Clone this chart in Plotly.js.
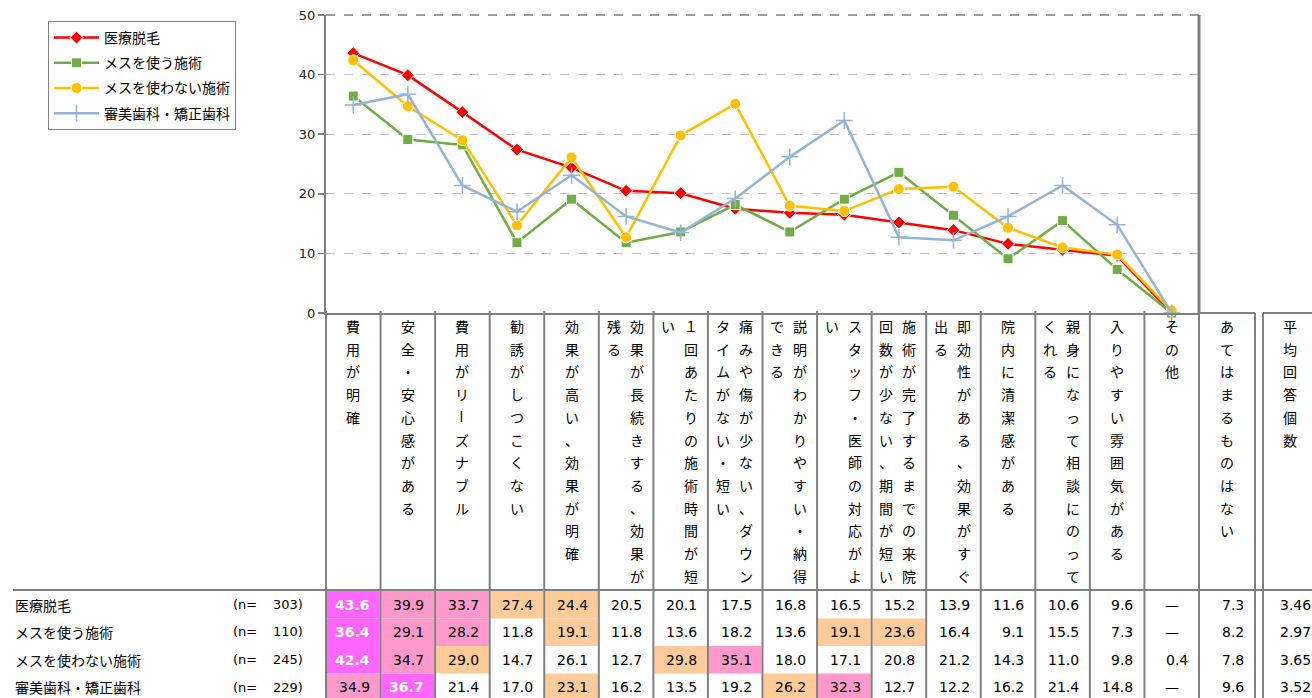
<!DOCTYPE html>
<html><head><meta charset="utf-8">
<script src="https://cdn.plot.ly/plotly-3.0.1.min.js"></script>
<style>body{margin:0;background:#fff}</style>
</head><body><div id="chart" style="width:1312px;height:698px"></div>
<script>
// ---- data ----
const categories = [
  '費用が明確', '安全・安心感がある', '費用がリーズナブル', '勧誘がしつこくない',
  '効果が高い、効果が明確', '効果が長続きする、効果が残る', '１回あたりの施術時間が短い',
  '痛みや傷が少ない、ダウンタイムがない・短い', '説明がわかりやすい・納得できる',
  'スタッフ・医師の対応がよい', '施術が完了するまでの来院回数が少ない、期間が短い',
  '即効性がある、効果がすぐ出る', '院内に清潔感がある', '親身になって相談にのってくれる',
  '入りやすい雰囲気がある', 'その他'
];
const extraColumns = ['あてはまるものはない', '平均回答個数'];
const seriesNames = ['医療脱毛', 'メスを使う施術', 'メスを使わない施術', '審美歯科・矯正歯科'];
const sampleSizes = [303, 110, 245, 229];
const iryoDatsumo   = [43.6, 39.9, 33.7, 27.4, 24.4, 20.5, 20.1, 17.5, 16.8, 16.5, 15.2, 13.9, 11.6, 10.6, 9.6, null];
const mesuTsukau    = [36.4, 29.1, 28.2, 11.8, 19.1, 11.8, 13.6, 18.2, 13.6, 19.1, 23.6, 16.4, 9.1, 15.5, 7.3, null];
const mesuTsukawanai= [42.4, 34.7, 29.0, 14.7, 26.1, 12.7, 29.8, 35.1, 18.0, 17.1, 20.8, 21.2, 14.3, 11.0, 9.8, 0.4];
const shinbiShika   = [34.9, 36.7, 21.4, 17.0, 23.1, 16.2, 13.5, 19.2, 26.2, 32.3, 12.7, 12.2, 16.2, 21.4, 14.8, null];
const noneValues = [7.3, 8.2, 7.8, 9.6];
const avgCounts = [3.46, 2.97, 3.65, 3.52];
const yTicks = [0, 10, 20, 30, 40, 50];

// ---- styles ----
const seriesValues = [iryoDatsumo, mesuTsukau, mesuTsukawanai, shinbiShika];
const colors = ['#FF0000', '#70AD47', '#FFC000', '#95B3D7'];
const symbols = ['diamond', 'square', 'circle', 'cross-thin'];
const msizes = [10, 10, 11, 12];
const JP = '"Noto Sans CJK JP", sans-serif';
const NUM = '"DejaVu Sans", "Noto Sans CJK JP", sans-serif';
const GRAY = '#808080';

const W = 1312, H = 698, L = 326, R = 1199, T = 15, B = 313;
const px2x = p => (p - L) / (R - L);
const py2y = p => (B - p) / (B - T);
const colW = (R - L) / categories.length;
const colEdge = i => L + i * colW;

const traces = seriesValues.map((vals, s) => ({
  type: 'scatter', mode: 'lines+markers', name: seriesNames[s],
  legendgroup: 'g' + s,
  x: categories, y: vals.map(v => v === null ? 0 : v),
  line: {color: colors[s], width: 2.5},
  marker: {symbol: symbols[s], size: msizes[s], color: colors[s],
           line: {color: s === 3 ? colors[s] : '#FFFFFF', width: s === 3 ? 1.5 : 1}},
  cliponaxis: false, hoverinfo: 'x+y'
}));

const shapes = [];
const annotations = [];
function line(x0, y0, x1, y1, w, dash) {
  shapes.push({type: 'line', xref: 'paper', yref: 'paper', x0: px2x(x0), y0: py2y(y0), x1: px2x(x1), y1: py2y(y1),
    line: {color: GRAY, width: w || 2, dash: dash || 'solid'}});
}
function rect(x0, y0, x1, y1, c) {
  shapes.push({type: 'rect', xref: 'paper', yref: 'paper', x0: px2x(x0), y0: py2y(y0), x1: px2x(x1), y1: py2y(y1),
    line: {width: 0}, fillcolor: c, layer: 'below'});
}
function txt(t, x, y, anchor, opts) {
  opts = opts || {};
  annotations.push({xref: 'paper', yref: 'paper', x: px2x(x), y: py2y(y), xanchor: anchor || 'center', yanchor: 'middle',
    showarrow: false, text: t, textangle: opts.angle || 0,
    font: {family: opts.family || JP, size: opts.size || 14, color: opts.color || '#000'}});
}

// ---- table cell colours by rank ----
const rowTop = s => 591 + s * 27.5;
const rowMid = s => rowTop(s) + 13.5;
const cellColor = ['#FF66FF', '#FF99CC', '#FF99CC', '#FFCC99', '#FFCC99'];
seriesValues.forEach((vals, s) => {
  vals.forEach((v, i) => {
    if (v === null) return;
    const rank = vals.filter(o => o !== null && o > v).length;
    if (rank < 5) rect(colEdge(i) + 1, rowTop(s), colEdge(i + 1) - 1, rowTop(s) + 27.5, cellColor[rank]);
  });
});

// ---- grid lines / boxes ----
for (let i = 0; i <= categories.length; i++) line(colEdge(i), B - 2, colEdge(i), H, 2);
line(R, T, R, B, 3);
const xNoneR = 1255, xAvgL = 1263, xAvgR = 1316;
line(xNoneR, B, xNoneR, H, 2);
line(xAvgL, B, xAvgL, H, 2);
line(R, B, xNoneR, B, 2);
line(xAvgL, B, W, B, 2);
line(13, 590, W, 590, 2);
line(L, T, R, T, 1.5, 'dash');

// ---- vertical category labels ----
const allCols = categories.concat(extraColumns);
const colCenters = categories.map((c, i) => colEdge(i) + colW / 2).concat([(R + xNoneR) / 2, (xAvgL + xAvgR) / 2]);
allCols.forEach((label, i) => {
  const chars = [...label];
  const cols = [];
  for (let k = 0; k < chars.length; k += 12) cols.push(chars.slice(k, k + 12));
  const offs = cols.length === 1 ? [0] : [10.5, -12.5];
  cols.forEach((col, c) => col.forEach((ch, r) =>
    txt(ch, colCenters[i] + offs[c], 326 + r * 22.7, 'center', {angle: ch === 'ー' ? 90 : 0})));
});

// ---- table ----
seriesNames.forEach((name, s) => {
  const y = rowMid(s);
  txt(name, 13, y, 'left');
  txt('(n=', 231, y, 'left', {family: NUM, size: 13});
  txt(sampleSizes[s] + ')', 305, y, 'right', {family: NUM, size: 13});
  seriesValues[s].forEach((v, i) => {
    if (v === null) { txt('—', colCenters[i], y, 'center', {family: NUM}); return; }
    const rank = seriesValues[s].filter(o => o !== null && o > v).length;
    const t = v.toFixed(1);
    txt(rank === 0 ? '<b>' + t + '</b>' : t, colEdge(i + 1) - 9, y, 'right',
        {family: NUM, color: rank === 0 ? '#FFFFFF' : '#000'});
  });
  txt(noneValues[s].toFixed(1), xNoneR - 9, y, 'right', {family: NUM});
  txt(avgCounts[s].toFixed(2), 1313, y, 'right', {family: NUM});
});

const layout = {
  width: W, height: H, autosize: false,
  margin: {l: L, r: W - R, t: T, b: H - B, pad: 0},
  paper_bgcolor: '#fff', plot_bgcolor: '#fff',
  showlegend: true,
  legend: {x: px2x(48), y: py2y(21), xanchor: 'left', yanchor: 'top',
           bordercolor: GRAY, borderwidth: 1, bgcolor: '#fff',
           font: {family: JP, size: 14, color: '#000'}, traceorder: 'grouped', tracegroupgap: 4,
           itemwidth: 45},
  xaxis: {type: 'category', range: [-0.5, categories.length - 0.5], showticklabels: false, ticks: '',
          showgrid: false, showline: true, linecolor: GRAY, linewidth: 2, zeroline: false, fixedrange: true},
  yaxis: {range: [0, 50], tickvals: yTicks, ticks: 'outside', ticklen: 6, tickcolor: GRAY, tickwidth: 1.5,
          showline: true, linecolor: GRAY, linewidth: 2, gridcolor: '#BFBFBF', griddash: 'dash', gridwidth: 1,
          zeroline: false, tickfont: {family: NUM, size: 13, color: '#222'}, fixedrange: true},
  shapes: shapes, annotations: annotations
};
Plotly.newPlot('chart', traces, layout, {displayModeBar: false, staticPlot: true});
</script></body></html>
